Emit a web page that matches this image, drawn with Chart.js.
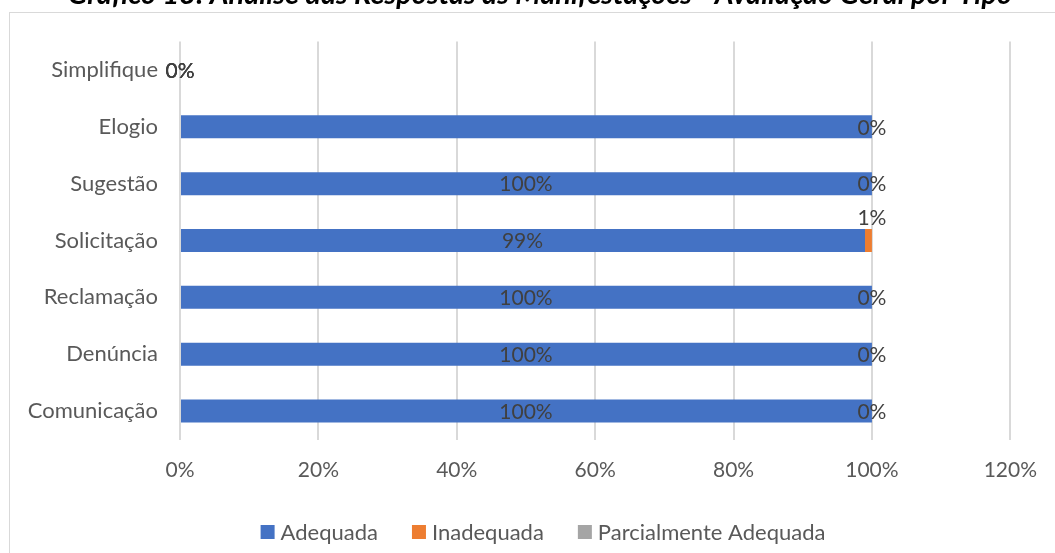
<!DOCTYPE html>
<html>
<head>
<meta charset="utf-8">
<script src="https://cdn.jsdelivr.net/npm/chart.js@4.4.1/dist/chart.umd.min.js"></script>
<style>
  html, body { margin: 0; padding: 0; background: #ffffff; }
  #wrap { width: 1055px; height: 553px; position: relative; }
</style>
</head>
<body>
<div id="wrap"><canvas id="c" width="1055" height="553"></canvas></div>
<script>
// ---- data ----
const chartTitle = 'Gráfico 13: Análise das Respostas às Manifestações - Avaliação Geral por Tipo';
const categories = ['Simplifique', 'Elogio', 'Sugestão', 'Solicitação', 'Reclamação', 'Denúncia', 'Comunicação'];
const seriesNames = ['Adequada', 'Inadequada', 'Parcialmente Adequada'];
const adequada = [0, 100, 100, 99, 100, 100, 100];
const inadequada = [0, 0, 0, 1, 0, 0, 0];
const parcialmente = [0, 0, 0, 0, 0, 0, 0];
const adequadaLabels = ['0%', '', '100%', '99%', '100%', '100%', '100%'];
const inadequadaLabels = ['0%', '0%', '0%', '1%', '0%', '0%', '0%'];
const parcialmenteLabels = ['0%', '', '', '', '', '', ''];
const xTickMin = 0, xTickMax = 120, xTickStep = 20;

// ---- styles ----
const FONT = 'Lato';
const TXT = '#595959';
const LBL = '#404040';
const colors = ['#4472C4', '#ED7D31', '#A5A5A5'];
const labelSets = [adequadaLabels, inadequadaLabels, parcialmenteLabels];

const framePlugin = {
  id: 'frame',
  beforeDraw(chart) {
    const ctx = chart.ctx;
    ctx.save();
    ctx.fillStyle = '#ffffff';
    ctx.fillRect(0, 0, chart.width, chart.height);
    ctx.strokeStyle = '#d9d9d9';
    ctx.lineWidth = 1;
    ctx.strokeRect(9.5, 12.5, 1100, 650);
    // title (partially clipped at the top, as in the reference)
    let size = 22;
    ctx.font = `italic bold ${size}px ${FONT}`;
    const w = ctx.measureText(chartTitle).width;
    size = size * 945 / w;
    ctx.font = `italic bold ${size}px ${FONT}`;
    ctx.fillStyle = '#000000';
    ctx.textAlign = 'center';
    ctx.textBaseline = 'alphabetic';
    ctx.fillText(chartTitle, 540, 3.5);
    ctx.restore();
  }
};

const labelPlugin = {
  id: 'barLabels',
  afterDatasetsDraw(chart) {
    const ctx = chart.ctx;
    const xs = chart.scales.x;
    ctx.save();
    ctx.font = `21px ${FONT}`;
    ctx.fillStyle = LBL;
    ctx.textAlign = 'center';
    ctx.textBaseline = 'middle';
    chart.data.datasets.forEach((ds, di) => {
      const meta = chart.getDatasetMeta(di);
      ds.data.forEach((v, i) => {
        const txt = labelSets[di][i];
        if (!txt) return;
        let start = 0;
        for (let k = 0; k < di; k++) start += chart.data.datasets[k].data[i];
        const el = meta.data[i];
        let x = xs.getPixelForValue(start + v / 2);
        let y = el.y;
        // small non-zero segment next to a large one: label sits above the bar
        if (v > 0 && v < 5 && di > 0) {
          x = xs.getPixelForValue(start + v);
          y = el.y - el.height / 2 - 12;
        }
        ctx.fillText(txt, x, y + 1);
      });
    });
    ctx.restore();
  }
};

const legendPlugin = {
  id: 'customLegend',
  afterDraw(chart) {
    const ctx = chart.ctx;
    ctx.save();
    ctx.font = `22px ${FONT}`;
    const box = 14, gapBox = 6, gapItem = 34;
    const items = chart.data.datasets.map(d => ({ t: d.label, c: d.backgroundColor, w: ctx.measureText(d.label).width }));
    let total = 0;
    items.forEach((it, i) => { total += box + gapBox + it.w + (i < items.length - 1 ? gapItem : 0); });
    let x = 543 - total / 2;
    const yc = 532;
    ctx.textBaseline = 'middle';
    ctx.textAlign = 'left';
    items.forEach(it => {
      ctx.fillStyle = it.c;
      ctx.fillRect(x, yc - box / 2, box, box);
      x += box + gapBox;
      ctx.fillStyle = TXT;
      ctx.fillText(it.t, x, yc + 1);
      x += it.w + gapItem;
    });
    ctx.restore();
  }
};

const datasets = [adequada, inadequada, parcialmente].map((d, i) => ({
  label: seriesNames[i],
  data: d,
  backgroundColor: colors[i],
  borderWidth: 0,
  barPercentage: 0.404,
  categoryPercentage: 1.0
}));

new Chart(document.getElementById('c'), {
  type: 'bar',
  data: { labels: categories, datasets },
  options: {
    indexAxis: 'y',
    responsive: false,
    animation: false,
    devicePixelRatio: 1,
    layout: { padding: { left: 0, top: 41.5, right: 43.5, bottom: 53.5 } },
    plugins: {
      legend: { display: false },
      title: { display: false },
      tooltip: { enabled: false }
    },
    scales: {
      x: {
        stacked: true,
        min: xTickMin,
        max: xTickMax,
        ticks: {
          stepSize: xTickStep,
          callback: v => v + '%',
          color: TXT,
          font: { family: FONT, size: 21 },
          padding: 18
        },
        grid: { color: '#d9d9d9', lineWidth: 2, drawTicks: false },
        border: { display: false },
        afterFit(s) { s.height = 60; }
      },
      y: {
        stacked: true,
        ticks: {
          color: TXT,
          font: { family: FONT, size: 22 },
          padding: 22
        },
        grid: { display: false, drawTicks: false },
        border: { display: false },
        afterFit(s) { s.width = 180; }
      }
    }
  },
  plugins: [framePlugin, labelPlugin, legendPlugin]
});
</script>
</body>
</html>
